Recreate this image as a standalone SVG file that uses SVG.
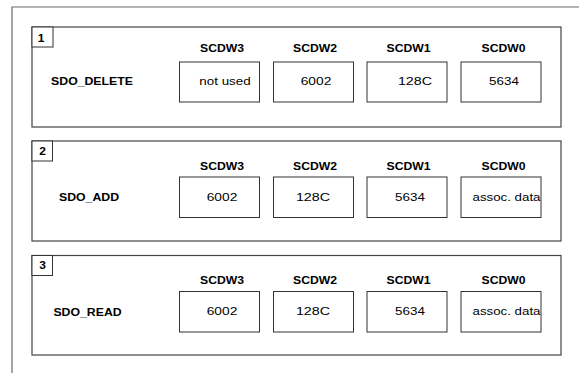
<svg xmlns="http://www.w3.org/2000/svg" width="579" height="373" viewBox="0 0 579 373">
<style>
  .frame { fill: none; stroke: #6a6a6a; stroke-width: 1.2; }
  .panel { fill: #ffffff; stroke: #444444; stroke-width: 1.2; }
  .cell { fill: #ffffff; stroke: #333333; stroke-width: 1; }
  .num { fill: #ffffff; stroke: #333333; stroke-width: 1; }
  text { font-family: "Liberation Sans", Arial, sans-serif; fill: #000000; }
  .hdr { font-size: 10px; font-weight: bold; text-anchor: middle; }
  .lbl { font-size: 10px; font-weight: bold; text-anchor: middle; }
  .val { font-size: 11px; text-anchor: middle; }
  .idx { font-size: 10px; font-weight: bold; text-anchor: middle; }
</style>
<rect width="579" height="373" fill="#ffffff"/>
<path class="frame" d="M12,373 L12,7 L579,7"/>

<g id="panel1">
  <rect class="panel" x="32" y="27" width="529" height="100"/>
  <rect class="num" x="32" y="27" width="21" height="20"/>
  <text class="idx" transform="translate(41,42) scale(1.2,1)">1</text>
  <text class="lbl" transform="translate(92,85) scale(1.23,1)">SDO_DELETE</text>
  <text class="hdr" transform="translate(222,52) scale(1.22,1)">SCDW3</text>
  <text class="hdr" transform="translate(315,52) scale(1.22,1)">SCDW2</text>
  <text class="hdr" transform="translate(408.5,52) scale(1.22,1)">SCDW1</text>
  <text class="hdr" transform="translate(503.5,52) scale(1.22,1)">SCDW0</text>
  <rect class="cell" x="179.5" y="62" width="80" height="40"/>
  <rect class="cell" x="273.5" y="62" width="80" height="40"/>
  <rect class="cell" x="367" y="62" width="80" height="40"/>
  <rect class="cell" x="461" y="62" width="80" height="40"/>
  <text class="val" transform="translate(225,85) scale(1.22,1)">not used</text>
  <text class="val" transform="translate(316,85) scale(1.25,1)">6002</text>
  <text class="val" transform="translate(415,85) scale(1.3,1)">128C</text>
  <text class="val" transform="translate(504,85) scale(1.22,1)">5634</text>
</g>

<g id="panel2">
  <rect class="panel" x="32" y="141" width="529" height="100"/>
  <rect class="num" x="32" y="141" width="20.5" height="20"/>
  <text class="idx" transform="translate(42.5,154.5) scale(1.2,1)">2</text>
  <text class="lbl" transform="translate(89,201) scale(1.23,1)">SDO_ADD</text>
  <text class="hdr" transform="translate(222,169.5) scale(1.22,1)">SCDW3</text>
  <text class="hdr" transform="translate(315,169.5) scale(1.22,1)">SCDW2</text>
  <text class="hdr" transform="translate(408.5,169.5) scale(1.22,1)">SCDW1</text>
  <text class="hdr" transform="translate(503.5,169.5) scale(1.22,1)">SCDW0</text>
  <rect class="cell" x="179.5" y="177" width="80" height="40.5"/>
  <rect class="cell" x="273.5" y="177" width="80" height="40.5"/>
  <rect class="cell" x="367" y="177" width="80" height="40.5"/>
  <rect class="cell" x="461" y="177" width="80" height="40.5"/>
  <text class="val" transform="translate(222,201) scale(1.25,1)">6002</text>
  <text class="val" transform="translate(313,201) scale(1.3,1)">128C</text>
  <text class="val" transform="translate(410,201) scale(1.22,1)">5634</text>
  <text class="val" transform="translate(506.5,201) scale(1.21,1)">assoc. data</text>
</g>

<g id="panel3">
  <rect class="panel" x="32" y="255.5" width="529" height="99.5"/>
  <rect class="num" x="32" y="255.5" width="20.5" height="20"/>
  <text class="idx" transform="translate(42.5,269) scale(1.2,1)">3</text>
  <text class="lbl" transform="translate(87.5,315.5) scale(1.23,1)">SDO_READ</text>
  <text class="hdr" transform="translate(222,284) scale(1.22,1)">SCDW3</text>
  <text class="hdr" transform="translate(315,284) scale(1.22,1)">SCDW2</text>
  <text class="hdr" transform="translate(408.5,284) scale(1.22,1)">SCDW1</text>
  <text class="hdr" transform="translate(503.5,284) scale(1.22,1)">SCDW0</text>
  <rect class="cell" x="179.5" y="291.5" width="80" height="40.5"/>
  <rect class="cell" x="273.5" y="291.5" width="80" height="40.5"/>
  <rect class="cell" x="367" y="291.5" width="80" height="40.5"/>
  <rect class="cell" x="461" y="291.5" width="80" height="40.5"/>
  <text class="val" transform="translate(222,315) scale(1.25,1)">6002</text>
  <text class="val" transform="translate(313,315) scale(1.3,1)">128C</text>
  <text class="val" transform="translate(410,315) scale(1.22,1)">5634</text>
  <text class="val" transform="translate(506.5,315) scale(1.21,1)">assoc. data</text>
</g>
</svg>
